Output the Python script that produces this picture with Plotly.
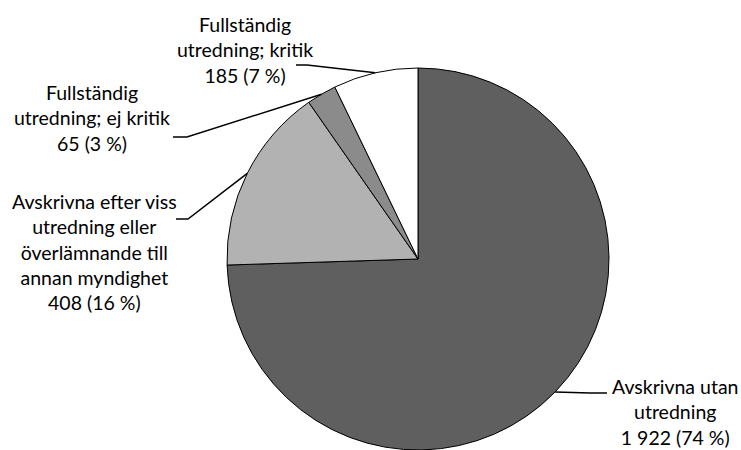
import math
import plotly.graph_objects as go

# Ärenden efter hur de avslutats
names = [
    "Avskrivna utan utredning",
    "Avskrivna efter viss utredning eller överlämnande till annan myndighet",
    "Fullständig utredning; ej kritik",
    "Fullständig utredning; kritik",
]
name_lines = [
    ["Avskrivna utan", "utredning"],
    ["Avskrivna efter viss", "utredning eller", "överlämnande till", "annan myndighet"],
    ["Fullständig", "utredning; ej kritik"],
    ["Fullständig", "utredning; kritik"],
]
values = [1922, 408, 65, 185]
colors = ["#5f5f5f", "#b2b2b2", "#8b8b8b", "#ffffff"]

# Figure geometry in pixels (origin top-left)
W, H = 741, 450
CX, CY, R = 418, 259, 191

# Label block centres, and leader line: text end -> elbow -> slice edge
label_centres = [(675, 412), (95, 252), (92, 118), (245, 50)]
leader_text_end = [(607, 393), (176, 219), (173, 137), (296, 65)]
leader_elbow = [(590, 393), (188, 219), (187, 137), (307, 65)]

FONT = dict(family="Lato, 'Open Sans', sans-serif", size=19.5, color="#000000")


def px(x):
    return x / W


def py(y):
    return 1 - y / H


total = sum(values)


def fmt_int(v):
    return f"{v:,}".replace(",", " ")


fig = go.Figure(
    go.Pie(
        labels=names,
        values=values,
        sort=False,
        direction="clockwise",
        rotation=0,
        marker=dict(colors=colors, line=dict(color="#000000", width=1)),
        textinfo="none",
        hoverinfo="label+value+percent",
        showlegend=False,
        domain=dict(
            x=[px(CX - R), px(CX + R)],
            y=[py(CY + R), py(CY - R)],
        ),
    )
)

annotations = []
shapes = []
cum = 0
for i, v in enumerate(values):
    share = v / total
    mid = (cum + share / 2) * 2 * math.pi  # clockwise from 12 o'clock
    cum += share
    ex = CX + R * math.sin(mid)
    ey = CY - R * math.cos(mid)

    pct = round(share * 100)
    text = "<br>".join(name_lines[i] + [f"{fmt_int(v)} ({pct} %)"])
    lx, ly = label_centres[i]
    annotations.append(
        dict(
            x=px(lx), y=py(ly), xref="paper", yref="paper",
            text=text, showarrow=False, align="center",
            xanchor="center", yanchor="middle", font=FONT,
        )
    )

    tx, ty = leader_text_end[i]
    bx, by = leader_elbow[i]
    shapes.append(
        dict(
            type="path", xref="paper", yref="paper",
            path=f"M {px(tx)},{py(ty)} L {px(bx)},{py(by)} L {px(ex)},{py(ey)}",
            line=dict(color="#000000", width=1.5),
        )
    )

fig.update_layout(
    width=W,
    height=H,
    margin=dict(l=0, r=0, t=0, b=0),
    paper_bgcolor="#ffffff",
    plot_bgcolor="#ffffff",
    annotations=annotations,
    shapes=shapes,
)

fig.write_html("out.html")
